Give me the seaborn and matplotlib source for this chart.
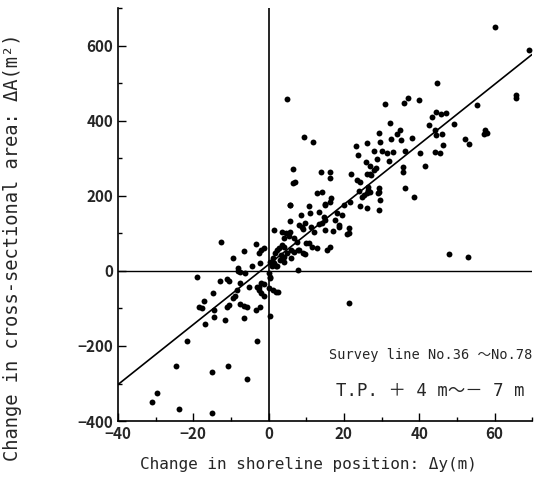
import matplotlib.pyplot as plt
import numpy as np
import pandas as pd
import seaborn as sns

# shoreline change dy (m) vs cross-sectional area change dA
dy = [
    -31, -29.5, -23.8, -15.1, -24.7, -21.6, -15.1, -10.9, -5.7, -3.2,
    -19, -17.1, -18.5, -17.7, -16.9, -14.8, -14.5, -14.5, -11.6, -11, -10.5,
    -12.9, -11, -10.5, -12.7, -9.5, -9.5, -8.9, -8.4, -7.5, -8.1, -8, -7.5,
    -6.2, -6.6, -5.3, -4.4, -3.3, -2.6, -1.3, -1.9, -2.2, -3.1, -2.6, -1.9,
    -1.3, -1.9, -1.3, -2.6, -7.5, -6.6, -5.7, -3.3, -2.4, -6.6,
    0.5, 0.1, 0.3, 0.3, 0.2, 1.1, 2.0, 2.4, 0.8, 2.1, 2.3, 0.5, 1.2, 1.8,
    2.3, 3.2, 4.1, 5.0, 5.9, 4.1, 5.9, 6.8, 7.9, 9.2, 8.0, 9.8, 7.9, 1.4,
    3.6, 4.5, 5.8, 4.1, 5.4, 6.8, 7.6, 9.9, 10.8, 11.5, 12.9, 15.5, 16.4,
    3.0, 4.0, 1.5, 2.7, 3.5,
    5.8, 8.1, 8.9, 9.8, 8.5, 11.1, 13.3, 14.7, 15.1, 14.2, 18.2, 19.5, 17.7,
    18.6, 17.0, 18.6, 21.4, 20.8, 21.3, 11.3, 13.5, 9.1, 12, 15, 5.8, 10.7,
    15.1, 16.4, 20, 21.5, 15.1, 16.7, 12.8, 14.2, 13.8, 16.3, 16.3, 6.5,
    6.5, 7.1, 5.6, 9.4, 11.9, 5, 21.9, 21.3, 48, 53,
    23.5, 24.4, 26.5, 26.5, 27, 26, 23.9, 24.8, 25.3, 29.3, 29.3, 29, 29.6,
    24.2, 26.2, 29.2, 28.5, 28, 27, 26.2, 27.1, 35.8, 35.8, 38.5, 36.3,
    23.8, 28.9, 32.1, 25.9, 26.9, 28.1, 30.1, 31.4, 33, 36.3, 26.2, 23.1,
    29.5, 35.1, 38.2, 32.5, 34.1, 29.2, 34.8, 32.3, 31, 36, 37, 40, 40.3,
    41.4,
    44.7, 44.4, 43.3, 45.7, 47, 49.3, 42.6, 44.3, 44.5, 46, 57.5, 58, 57.1,
    52.2, 53.3, 46.3, 44.3, 45.6, 55.4, 65.7, 65.7, 60.1, 69.2,
]
dA = [
    -350, -326, -368, -378, -253, -188, -270, -252, -288, -188,
    -17, -79, -95, -100, -141, -58, -104, -122, -131, -97, -91,
    -27, -21, -27, 76, 34, -71, -68, -51, -33, 7, 1, -2,
    -6, 52, -42, 14, 71, 47, 62, 56, 20, -42, -44, -31,
    -36, -60, -68, -51, -89, -93, -95, -104, -97, -126,
    -120, -6, -19, -15, -46, -51, -55, -57, 12, 12, 13, 25, 34, 47,
    56, 43, 38, 47, 34, 65, 56, 51, 56, 47, 56, 45, 2, 109,
    105, 100, 105, 87, 92, 87, 78, 74, 74, 65, 60, 56, 65,
    30, 25, 20, 60, 70,
    132, 123, 118, 127, 149, 154, 158, 145, 136, 127, 154, 149, 136,
    123, 107, 118, 114, 99, 100, 118, 125, 111, 105, 110, 176, 172,
    179, 185, 176, 185, 176, 195, 207, 211, 263, 263, 249, 272,
    234, 236, 176, 356, 345, 458, 259, -86, 44, 36,
    243, 238, 225, 216, 211, 209, 213, 198, 203, 220, 211, 209, 189,
    174, 167, 163, 274, 268, 258, 259, 256, 276, 265, 196, 220,
    309, 298, 294, 291, 281, 320, 320, 314, 316, 321, 340, 334,
    345, 348, 354, 351, 364, 367, 376, 394, 445, 447, 460, 455, 315,
    280,
    500, 423, 410, 419, 420, 391, 389, 376, 363, 365, 376, 369, 364,
    351, 339, 336, 318, 314, 443, 470, 460, 651, 589,
]
data = pd.DataFrame({"dy": dy, "dA": dA})

sns.set_style("ticks")
plt.rcParams["font.family"] = ["DejaVu Sans Mono", "Noto Sans CJK JP"]

fig = plt.figure(figsize=(5.36, 4.93), dpi=100)
ax = fig.add_axes([0.220, 0.146, 0.773, 0.837])
ax.set_xlim(-40, 70)
ax.set_ylim(-400, 700)

ax.axhline(0, color="black", lw=1.0)
ax.axvline(0, color="black", lw=1.2)
sns.regplot(x="dy", y="dA", data=data, ax=ax, ci=None, truncate=False,
            scatter_kws={"s": 18, "color": "black", "alpha": 1, "linewidths": 0},
            line_kws={"color": "black", "lw": 1.2})

ax.set_xticks([-40, -20, 0, 20, 40, 60])
ax.set_xticks(np.arange(-40, 71, 10), minor=True)
ax.set_yticks([-400, -200, 0, 200, 400, 600])
ax.set_yticks(np.arange(-400, 701, 100), minor=True)
ax.tick_params(which="both", direction="in", color="black", width=1)
ax.tick_params(which="major", length=6, labelsize=11)
ax.tick_params(which="minor", length=3)
for lab in ax.get_xticklabels() + ax.get_yticklabels():
    lab.set_fontweight("bold")
    lab.set_family(["Noto Sans CJK JP", "DejaVu Sans"])
sns.despine(ax=ax)
for s in ("left", "bottom"):
    ax.spines[s].set_color("black")
    ax.spines[s].set_linewidth(1.2)

ax.set_xlabel("Change in shoreline position: Δy(m)", fontsize=11.5)
ax.xaxis.set_label_coords(0.461, -0.087)
ax.set_ylabel("Change in cross-sectional area: ΔA(m²)", fontsize=13.5)
ax.yaxis.set_label_coords(-0.232, 0.42)

ax.text(70, -225, "Survey line No.36 ～No.78", ha="right", va="center", fontsize=9.8)
ax.text(68, -320, "T.P. ＋ 4 m～－ 7 m", ha="right", va="center", fontsize=12.5)

fig.savefig("out.png", dpi=100)
